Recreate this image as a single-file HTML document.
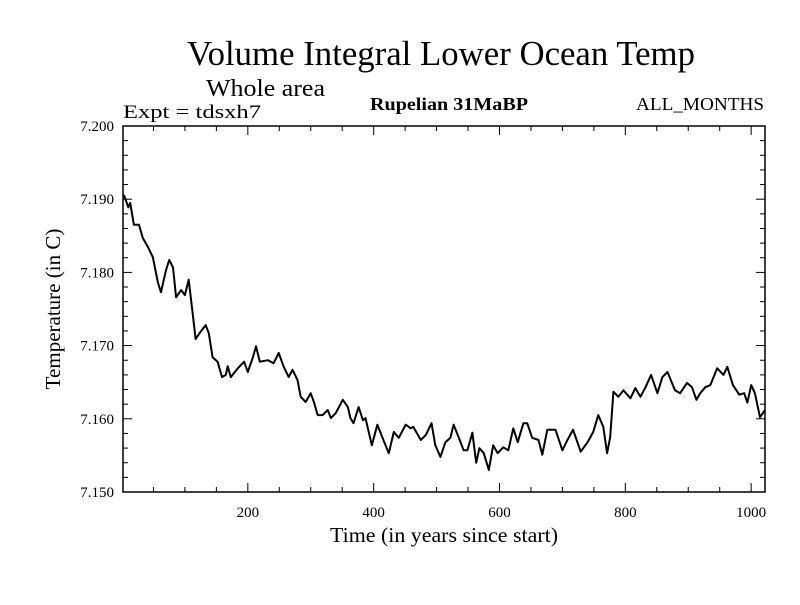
<!DOCTYPE html>
<html><head><meta charset="utf-8"><style>
body{margin:0;background:#fff}
svg text{font-family:"Liberation Serif",serif;fill:#000}
</style></head><body>
<svg id="chart" width="800" height="600" xmlns="http://www.w3.org/2000/svg">
<text x="187" y="65" font-size="35" textLength="508" lengthAdjust="spacingAndGlyphs">Volume Integral Lower Ocean Temp</text>
<text x="206" y="96" font-size="24" textLength="119" lengthAdjust="spacingAndGlyphs">Whole area</text>
<text x="123" y="118" font-size="19" textLength="138" lengthAdjust="spacingAndGlyphs">Expt = tdsxh7</text>
<text x="370" y="110" font-size="18" font-weight="bold" textLength="158" lengthAdjust="spacingAndGlyphs">Rupelian  31MaBP</text>
<text x="636" y="110" font-size="18" textLength="128" lengthAdjust="spacingAndGlyphs">ALL_MONTHS</text>
<text x="330" y="542" font-size="21" textLength="228" lengthAdjust="spacingAndGlyphs">Time (in years since start)</text>
<text transform="translate(60,309) rotate(-90)" font-size="21" text-anchor="middle">Temperature (in C)</text>
<g id="axes"></g>
<rect x="123" y="126" width="642" height="366" fill="none" stroke="#000" stroke-width="1.5"/>
<path id="series" fill="none" stroke="#000" stroke-width="2" stroke-linejoin="round"/>
</svg>
<script>
const years=[3,10,13,19,27,33,41,49,57,62,70,75,81,86,94,100,106,113,117,125,133,138,144,152,159,165,168,173,184,194,200,208,213,219,232,241,249,257,265,271,279,284,292,300,305,311,319,327,332,340,351,359,363,368,376,383,387,397,406,414,424,432,440,451,459,463,475,483,492,498,506,514,522,527,535,543,549,557,563,568,575,583,590,597,606,614,622,629,638,644,652,662,668,676,689,700,708,717,729,740,749,757,765,771,776,781,789,797,808,816,824,832,841,851,859,867,879,887,898,906,913,919,927,935,946,956,962,971,981,989,994,1000,1006,1014,1022];
const temps=[7.1906,7.1889,7.1895,7.1865,7.1865,7.1847,7.1835,7.1821,7.1786,7.1773,7.1803,7.1817,7.1807,7.1766,7.1776,7.1769,7.1790,7.1739,7.1709,7.1719,7.1728,7.1717,7.1684,7.1678,7.1657,7.1660,7.1672,7.1657,7.1669,7.1678,7.1664,7.1684,7.1699,7.1678,7.1680,7.1676,7.1690,7.1671,7.1657,7.1667,7.1653,7.1630,7.1623,7.1635,7.1623,7.1605,7.1605,7.1612,7.1601,7.1608,7.1626,7.1616,7.1601,7.1594,7.1616,7.1598,7.1601,7.1564,7.1592,7.1574,7.1553,7.1582,7.1574,7.1592,7.1587,7.1589,7.1571,7.1578,7.1594,7.1564,7.1548,7.1568,7.1574,7.1592,7.1575,7.1557,7.1557,7.1581,7.1540,7.1560,7.1553,7.1530,7.1564,7.1553,7.1561,7.1557,7.1587,7.1568,7.1594,7.1594,7.1574,7.1571,7.1551,7.1585,7.1585,7.1557,7.1571,7.1585,7.1555,7.1568,7.1582,7.1605,7.1589,7.1553,7.1575,7.1637,7.1630,7.1639,7.1628,7.1642,7.1630,7.1643,7.1660,7.1635,7.1657,7.1664,7.1639,7.1635,7.1649,7.1643,7.1626,7.1635,7.1643,7.1646,7.1669,7.1660,7.1671,7.1646,7.1633,7.1635,7.1622,7.1646,7.1635,7.1602,7.1612];
const xTicks=[200,400,600,800,1000];
const yTicks=[7.150,7.160,7.170,7.180,7.190,7.200];
const yTickLabels=["7.150","7.160","7.170","7.180","7.190","7.200"];
const X0=123,X1=765,Y0=492,Y1=126,XMIN=1.6,XMAX=1022,YMIN=7.15,YMAX=7.2;
const xs=v=>X0+(v-XMIN)/(XMAX-XMIN)*(X1-X0);
const ys=v=>Y0-(v-YMIN)/(YMAX-YMIN)*(Y0-Y1);
const NS="http://www.w3.org/2000/svg";
const g=document.getElementById('axes');
function line(x1,y1,x2,y2,name){const l=document.createElementNS(NS,'line');
l.setAttribute('x1',x1);l.setAttribute('y1',y1);l.setAttribute('x2',x2);l.setAttribute('y2',y2);
l.setAttribute('stroke','#000');l.setAttribute('stroke-width','1');


g.appendChild(l);}
function text(x,y,s,anchor,name){const t=document.createElementNS(NS,'text');
t.setAttribute('x',x);t.setAttribute('y',y);t.setAttribute('font-size','15');t.setAttribute('text-anchor',anchor);t.textContent=s;


g.appendChild(t);}
for(let v=50;v<=1000;v+=50){const x=xs(v);const L=(v%200===0)?9:5;
line(x,Y0,x,Y0-L,'x-tick');line(x,Y1,x,Y1+L,'x-tick-top');}
xTicks.forEach(v=>text(xs(v),517,String(v),'middle','x-tick-label'));
for(let i=0;i<=25;i++){const v=YMIN+i*0.002;const y=ys(v);const L=(i%5===0)?9:5;
line(X0,y,X0+L,y,'y-tick');line(X1,y,X1-L,y,'y-tick-right');}
yTicks.forEach((v,i)=>text(114,ys(v)+5,yTickLabels[i],'end','y-tick-label'));
document.getElementById('series').setAttribute('d',years.map((yr,i)=>(i?'L':'M')+xs(yr).toFixed(1)+','+ys(temps[i]).toFixed(1)).join(''));
</script>
</body></html>
